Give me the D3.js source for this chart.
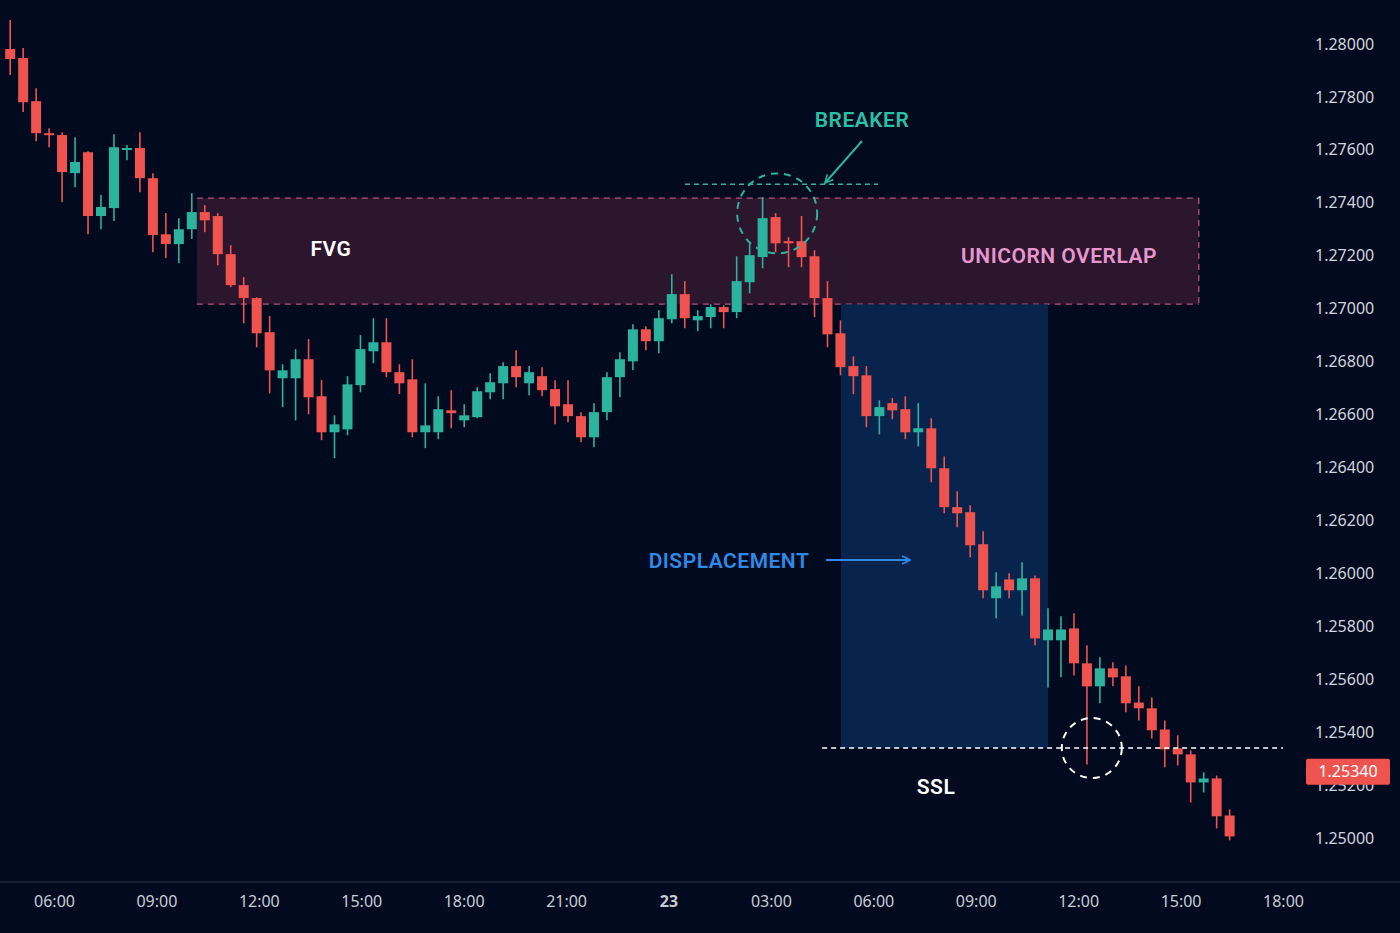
<!DOCTYPE html>
<html>
<head>
<meta charset="utf-8">
<script src="https://cdn.jsdelivr.net/npm/d3@7"></script>
<style>
  html, body { margin: 0; padding: 0; background: #020a1f; }
  svg { display: block; font-family: "Noto Sans", "Open Sans", sans-serif; }
</style>
</head>
<body>
<div id="chart"></div>
<script>
// OHLC values (15-ish min candles, 22nd -> 23rd)
const opens = [1.27981,1.27947,1.27784,1.27663,1.27656,1.27512,1.27591,1.27350,1.27380,1.27603,
  1.27607,1.27493,1.27281,1.27244,1.27300,1.27365,1.27350,1.27206,1.27089,1.27040,
  1.26911,1.26737,1.26737,1.26809,1.26669,1.26533,1.26544,1.26711,1.26839,1.26873,
  1.26760,1.26733,1.26533,1.26533,1.26616,1.26578,1.26590,1.26684,1.26718,1.26783,
  1.26718,1.26745,1.26696,1.26639,1.26594,1.26514,1.26609,1.26741,1.26801,1.26922,
  1.26877,1.26960,1.27055,1.26956,1.26968,1.27006,1.26987,1.27100,1.27195,1.27346,
  1.27255,1.27255,1.27198,1.27040,1.26907,1.26783,1.26748,1.26594,1.26643,1.26620,
  1.26533,1.26548,1.26397,1.26250,1.26231,1.26110,1.25906,1.25977,1.25936,1.25981,
  1.25747,1.25747,1.25792,1.25660,1.25573,1.25641,1.25611,1.25512,1.25490,1.25410,
  1.25339,1.25316,1.25210,1.25225,1.25085];
const highs = [1.28091,1.27985,1.27833,1.27682,1.27667,1.27648,1.27595,1.27429,1.27659,1.27618,
  1.27667,1.27512,1.27361,1.27342,1.27436,1.27391,1.27361,1.27240,1.27119,1.27043,
  1.26972,1.26790,1.26847,1.26885,1.26730,1.26597,1.26745,1.26900,1.26964,1.26964,
  1.26790,1.26809,1.26718,1.26669,1.26692,1.26639,1.26703,1.26756,1.26798,1.26843,
  1.26783,1.26779,1.26730,1.26730,1.26609,1.26643,1.26760,1.26835,1.26941,1.26934,
  1.26994,1.27130,1.27104,1.26994,1.27017,1.27013,1.27198,1.27247,1.27421,1.27361,
  1.27270,1.27350,1.27221,1.27104,1.26956,1.26820,1.26783,1.26654,1.26662,1.26669,
  1.26643,1.26586,1.26442,1.26310,1.26257,1.26159,1.26004,1.26000,1.26042,1.25992,
  1.25868,1.25838,1.25849,1.25728,1.25683,1.25664,1.25652,1.25573,1.25531,1.25444,
  1.25388,1.25331,1.25248,1.25236,1.25108];
const lows = [1.27883,1.27743,1.27633,1.27610,1.27402,1.27459,1.27281,1.27300,1.27331,1.27561,
  1.27440,1.27213,1.27191,1.27172,1.27263,1.27289,1.27164,1.27081,1.26945,1.26854,
  1.26680,1.26628,1.26578,1.26601,1.26503,1.26435,1.26522,1.26684,1.26794,1.26741,
  1.26677,1.26514,1.26473,1.26507,1.26548,1.26552,1.26586,1.26658,1.26658,1.26703,
  1.26673,1.26669,1.26563,1.26571,1.26495,1.26476,1.26578,1.26665,1.26767,1.26843,
  1.26832,1.26945,1.26926,1.26915,1.26926,1.26926,1.26964,1.27058,1.27153,1.27213,
  1.27157,1.27157,1.26968,1.26854,1.26748,1.26677,1.26552,1.26525,1.26582,1.26507,
  1.26480,1.26344,1.26227,1.26174,1.26061,1.25906,1.25830,1.25906,1.25841,1.25728,
  1.25569,1.25607,1.25614,1.25278,1.25509,1.25573,1.25475,1.25444,1.25376,1.25267,
  1.25274,1.25134,1.25172,1.25036,1.24991];
const closes = [1.27943,1.27780,1.27663,1.27659,1.27516,1.27554,1.27350,1.27384,1.27610,1.27607,
  1.27493,1.27278,1.27244,1.27300,1.27365,1.27334,1.27206,1.27089,1.27040,1.26907,
  1.26767,1.26767,1.26809,1.26665,1.26533,1.26563,1.26714,1.26847,1.26873,1.26760,
  1.26718,1.26533,1.26559,1.26620,1.26605,1.26597,1.26688,1.26722,1.26783,1.26741,
  1.26760,1.26692,1.26631,1.26594,1.26514,1.26609,1.26741,1.26809,1.26922,1.26877,
  1.26964,1.27055,1.26964,1.26972,1.27006,1.26987,1.27104,1.27202,1.27342,1.27247,
  1.27247,1.27195,1.27040,1.26903,1.26779,1.26745,1.26594,1.26628,1.26616,1.26533,
  1.26548,1.26397,1.26250,1.26227,1.26106,1.25936,1.25951,1.25936,1.25981,1.25754,
  1.25788,1.25788,1.25660,1.25573,1.25641,1.25607,1.25509,1.25490,1.25407,1.25335,
  1.25316,1.25210,1.25225,1.25082,1.25006];

const priceTicks = [1.25000,1.25200,1.25400,1.25600,1.25800,1.26000,1.26200,1.26400,
  1.26600,1.26800,1.27000,1.27200,1.27400,1.27600,1.27800,1.28000];
const timeTickLabels = ["06:00","09:00","12:00","15:00","18:00","21:00","23","03:00",
  "06:00","09:00","12:00","15:00","18:00"];

// zones and levels
const fvgTop = 1.27418, fvgBottom = 1.27017;
const breakerLevel = 1.27470;
const sslLevel = 1.25340;
const lastPrice = "1.25340";

const W = 1400, H = 933;
const day = (d, h, m) => new Date(2024, 0, d, h, m);
const start = day(22, 4, 43);
const stepMin = 22.8;

const candles = opens.map((o, i) => ({
  t: new Date(start.getTime() + i * stepMin * 60000),
  o, h: highs[i], l: lows[i], c: closes[i]
}));

const x = d3.scaleTime().domain([day(22, 6, 0), day(23, 18, 0)]).range([54, 1283]);
const y = d3.scaleLinear().domain([1.25, 1.28]).range([838, 44]);

const svg = d3.select("#chart").append("svg")
  .attr("width", W).attr("height", H);

svg.append("rect").attr("width", W).attr("height", H).attr("fill", "#020a1f");

// FVG / unicorn box
svg.append("rect")
  .attr("x", x(day(22, 10, 11))).attr("y", y(fvgTop))
  .attr("width", x(day(23, 15, 32)) - x(day(22, 10, 11)))
  .attr("height", y(fvgBottom) - y(fvgTop))
  .attr("fill", "#3a1b33").attr("fill-opacity", 0.75);
[fvgTop, fvgBottom].forEach(p => {
  svg.append("line")
    .attr("x1", x(day(22, 10, 11))).attr("x2", x(day(23, 15, 32)))
    .attr("y1", y(p)).attr("y2", y(p))
    .attr("stroke", "#b8507f").attr("stroke-width", 1.3).attr("stroke-dasharray", "6,5");
});
svg.append("line")
  .attr("x1", x(day(23, 15, 32))).attr("x2", x(day(23, 15, 32)))
  .attr("y1", y(fvgTop)).attr("y2", y(fvgBottom))
  .attr("stroke", "#b8507f").attr("stroke-width", 1.3).attr("stroke-dasharray", "6,5");

// displacement box
svg.append("rect")
  .attr("x", x(day(23, 5, 3))).attr("y", y(fvgBottom))
  .attr("width", x(day(23, 11, 7)) - x(day(23, 5, 3)))
  .attr("height", y(sslLevel) - y(fvgBottom))
  .attr("fill", "#0b2a57").attr("fill-opacity", 0.8);

// candles
const bw = 10;
const g = svg.append("g");
const col = d => d.c >= d.o ? "#2bb39f" : "#ef5350";
g.selectAll("line.wick").data(candles).enter().append("line")
  .attr("x1", d => x(d.t)).attr("x2", d => x(d.t))
  .attr("y1", d => y(d.h)).attr("y2", d => y(d.l))
  .attr("stroke", col).attr("stroke-width", 1.6);
g.selectAll("rect.body").data(candles).enter().append("rect")
  .attr("x", d => x(d.t) - bw / 2).attr("width", bw)
  .attr("y", d => y(Math.max(d.o, d.c)))
  .attr("height", d => Math.max(2, Math.abs(y(d.o) - y(d.c))))
  .attr("fill", col);

// SSL level
svg.append("line")
  .attr("x1", x(day(23, 4, 30))).attr("x2", x(day(23, 18, 0)))
  .attr("y1", y(sslLevel)).attr("y2", y(sslLevel))
  .attr("stroke", "#ffffff").attr("stroke-width", 1.3).attr("stroke-dasharray", "5,4");

// breaker level
svg.append("line")
  .attr("x1", x(day(23, 0, 29))).attr("x2", x(day(23, 6, 8)))
  .attr("y1", y(breakerLevel)).attr("y2", y(breakerLevel))
  .attr("stroke", "#2bb39f").attr("stroke-width", 1.3).attr("stroke-dasharray", "5,4");

// circles
svg.append("circle")
  .attr("cx", x(day(23, 3, 11))).attr("cy", y(1.27360)).attr("r", 40)
  .attr("fill", "none").attr("stroke", "#2bb39f").attr("stroke-width", 2).attr("stroke-dasharray", "7,6");
svg.append("circle")
  .attr("cx", x(day(23, 12, 24))).attr("cy", y(sslLevel)).attr("r", 30)
  .attr("fill", "none").attr("stroke", "#ffffff").attr("stroke-width", 2).attr("stroke-dasharray", "7,6");

// arrows
const defs = svg.append("defs");
function head(id, color) {
  defs.append("marker").attr("id", id).attr("viewBox", "0 0 10 10")
    .attr("refX", 9).attr("refY", 5).attr("markerWidth", 10).attr("markerHeight", 10)
    .attr("markerUnits", "userSpaceOnUse").attr("orient", "auto")
    .append("path").attr("d", "M1,1 L9,5 L1,9").attr("fill", "none")
    .attr("stroke", color).attr("stroke-width", 1.6);
}
head("ah-teal", "#2bb39f");
head("ah-blue", "#2e8ae6");
svg.append("line").attr("x1", 862).attr("y1", 141).attr("x2", 825).attr("y2", 183)
  .attr("stroke", "#2bb39f").attr("stroke-width", 2).attr("marker-end", "url(#ah-teal)");
svg.append("line").attr("x1", 826).attr("y1", 560).attr("x2", 910).attr("y2", 560)
  .attr("stroke", "#2e8ae6").attr("stroke-width", 2).attr("marker-end", "url(#ah-blue)");

// labels
const label = (txt, px, py, color) => svg.append("text")
  .attr("x", px).attr("y", py).attr("text-anchor", "middle").attr("dy", "0.35em")
  .attr("fill", color).attr("font-size", 21).attr("font-weight", 600)
  .attr("font-family", "'Roboto', sans-serif").attr("letter-spacing", 0.5).text(txt);
label("BREAKER", 862, 120, "#2bbfa5");
label("FVG", 331, 249, "#ffffff");
label("UNICORN OVERLAP", 1059, 256, "#e896d0");
label("DISPLACEMENT", 729, 561, "#2e8ae6");
label("SSL", 936, 787, "#ffffff");

// price axis
const yAxis = svg.append("g").attr("transform", "translate(1300,0)")
  .call(d3.axisRight(y).tickValues(priceTicks).tickFormat(d3.format(".5f")).tickSize(0).tickPadding(15));
yAxis.select(".domain").remove();
yAxis.selectAll("text").attr("fill", "#d0d4dc").attr("font-size", 16)
  .attr("font-family", "'Noto Sans', sans-serif");

// last price tag
const tagY = y(1.25250);
svg.append("rect").attr("x", 1306).attr("y", tagY - 13).attr("width", 84).attr("height", 26)
  .attr("rx", 2).attr("fill", "#ef5350");
svg.append("text").attr("x", 1348).attr("y", tagY).attr("dy", "0.35em")
  .attr("text-anchor", "middle").attr("fill", "#ffffff").attr("font-size", 16)
  .attr("font-family", "'Noto Sans', sans-serif").text(lastPrice);

// time axis
const tickDates = d3.range(13).map(i => new Date(day(22, 6, 0).getTime() + i * 3 * 3600000));
svg.append("line").attr("x1", 0).attr("x2", W).attr("y1", 882).attr("y2", 882)
  .attr("stroke", "#2a3244").attr("stroke-width", 1);
const xAxis = svg.append("g").attr("transform", "translate(0,882)")
  .call(d3.axisBottom(x).tickValues(tickDates)
    .tickFormat((d, i) => timeTickLabels[i]).tickSize(0).tickPadding(14));
xAxis.select(".domain").remove();
xAxis.selectAll("text").attr("fill", "#c8ccd6").attr("font-size", 16)
  .attr("font-family", "'Noto Sans', sans-serif")
  .attr("font-weight", (d, i) => timeTickLabels[i] === "23" ? 700 : 400);
</script>
</body>
</html>
